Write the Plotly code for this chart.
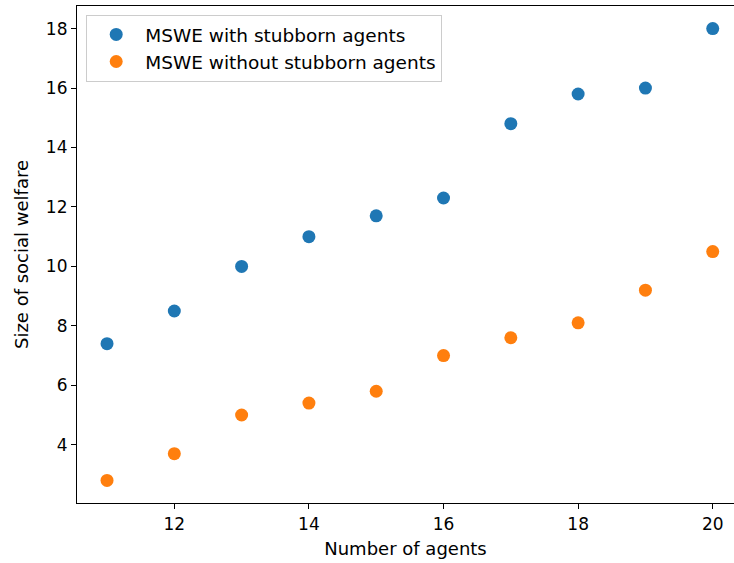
import plotly.graph_objects as go

agents = [11, 12, 13, 14, 15, 16, 17, 18, 19, 20]
with_stubborn = [7.4, 8.5, 10.0, 11.0, 11.7, 12.3, 14.8, 15.8, 16.0, 18.0]
without_stubborn = [2.8, 3.7, 5.0, 5.4, 5.8, 7.0, 7.6, 8.1, 9.2, 10.5]
x_ticks = [12, 14, 16, 18, 20]
y_ticks = [4, 6, 8, 10, 12, 14, 16, 18]

font = "DejaVu Sans"
fig = go.Figure()
fig.add_trace(go.Scatter(x=agents, y=with_stubborn, mode="markers",
                         name="MSWE with stubborn agents",
                         marker=dict(color="#1f77b4", size=13)))
fig.add_trace(go.Scatter(x=agents, y=without_stubborn, mode="markers",
                         name="MSWE without stubborn agents",
                         marker=dict(color="#ff7f0e", size=13)))

fig.update_layout(
    width=734, height=563,
    margin=dict(l=77, r=0, t=6, b=60),
    plot_bgcolor="white", paper_bgcolor="white",
    font=dict(family=font, size=17, color="black"),
    showlegend=True,
    legend=dict(x=0.014, y=0.982, xanchor="left", yanchor="top",
                bgcolor="rgba(255,255,255,0.8)", bordercolor="#cccccc", borderwidth=1,
                font=dict(family=font, size=18.5), itemwidth=48),
    xaxis=dict(range=[10.554, 20.316], tickvals=x_ticks, showgrid=False, zeroline=False,
               showline=True, linecolor="black", linewidth=1.2, mirror=True,
               ticks="outside", ticklen=5, tickcolor="black",
               tickfont=dict(size=17),
               title=dict(text="Number of agents", font=dict(size=18), standoff=9)),
    yaxis=dict(range=[2.04, 18.76], tickvals=y_ticks, showgrid=False, zeroline=False,
               showline=True, linecolor="black", linewidth=1.2, mirror=False,
               ticks="outside", ticklen=5, tickcolor="black",
               tickfont=dict(size=17),
               title=dict(text="Size of social welfare", font=dict(size=18), standoff=12)),
)
fig.write_html("out.html")
